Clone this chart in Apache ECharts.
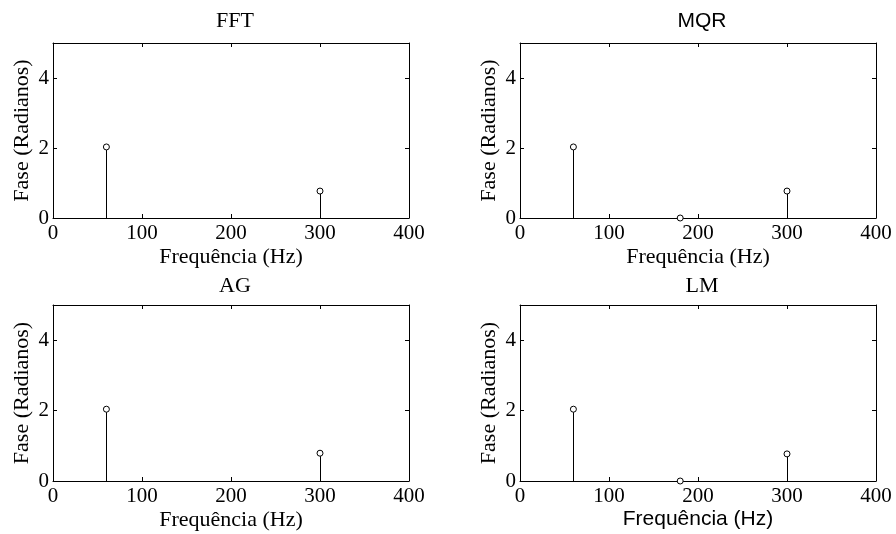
<!DOCTYPE html>
<html>
<head>
<meta charset="utf-8">
<script src="https://cdn.jsdelivr.net/npm/echarts@6/dist/echarts.min.js"></script>
<style>html,body{margin:0;padding:0;background:#fff}#c{width:896px;height:534px}</style>
</head>
<body>
<div id="c"></div>
<script>
// Data
var panelTitles = ['FFT', 'MQR', 'AG', 'LM'];
var freqFFT = [60, 300];
var phaseFFT = [2.03, 0.77];
var freqMQR = [60, 180, 300];
var phaseMQR = [2.03, 0, 0.77];
var freqAG = [60, 300];
var phaseAG = [2.04, 0.79];
var freqLM = [60, 180, 300];
var phaseLM = [2.04, 0, 0.77];
var xTicks = [0, 100, 200, 300, 400];
var yTicks = [0, 2, 4];
var xName = 'Frequência (Hz)';
var yName = 'Fase (Radianos)';

var serif = '"Liberation Serif", "Times New Roman", serif';
var sans = '"Liberation Sans", Arial, sans-serif';

var panels = [
  {title: panelTitles[0], f: freqFFT, p: phaseFFT, grid: {left: 53, top: 43, width: 356, height: 175}, titleFont: serif, xNameFont: serif, tx: 230, ty: 5},
  {title: panelTitles[1], f: freqMQR, p: phaseMQR, grid: {left: 520, top: 43, width: 356, height: 175}, titleFont: sans, xNameFont: serif, tx: 697, ty: 6},
  {title: panelTitles[2], f: freqAG, p: phaseAG, grid: {left: 53, top: 305, width: 356, height: 176}, titleFont: serif, xNameFont: serif, tx: 230, ty: 270},
  {title: panelTitles[3], f: freqLM, p: phaseLM, grid: {left: 520, top: 305, width: 356, height: 176}, titleFont: serif, xNameFont: sans, tx: 697, ty: 270}
];

var option = {
  animation: false,
  backgroundColor: '#fff',
  title: [], grid: [], xAxis: [], yAxis: [], series: []
};

var lineStyle = {color: '#000', width: 1};
panels.forEach(function (pn, i) {
  option.title.push({
    text: pn.title, left: pn.tx, top: pn.ty, textAlign: 'center',
    textStyle: {fontFamily: pn.titleFont, fontSize: pn.titleFont === sans ? 21 : 22, fontWeight: 'normal', color: '#000'}
  });
  option.grid.push(Object.assign({show: false}, pn.grid));
  var xi = option.xAxis.length;
  option.xAxis.push({
    type: 'value', gridIndex: i, min: 0, max: 400, interval: 100, position: 'bottom',
    name: xName, nameLocation: 'middle', nameGap: 28,
    nameTextStyle: {fontFamily: pn.xNameFont, fontSize: pn.xNameFont === sans ? 21 : 22, color: '#000'},
    axisLine: {show: true, onZero: false, lineStyle: lineStyle},
    axisTick: {show: true, inside: true, length: 4, lineStyle: lineStyle},
    axisLabel: {show: true, margin: 5, fontFamily: serif, fontSize: 21, color: '#000'},
    splitLine: {show: false}
  });
  option.xAxis.push({
    type: 'value', gridIndex: i, min: 0, max: 400, interval: 100, position: 'top',
    axisLine: {show: true, onZero: false, lineStyle: lineStyle},
    axisTick: {show: true, inside: true, length: 4, lineStyle: lineStyle},
    axisLabel: {show: false}, splitLine: {show: false}
  });
  var yi = option.yAxis.length;
  option.yAxis.push({
    type: 'value', gridIndex: i, min: 0, max: 5, interval: 2, position: 'left',
    name: yName, nameLocation: 'middle', nameGap: 20, nameRotate: 90,
    nameTextStyle: {fontFamily: serif, fontSize: 22, color: '#000'},
    axisLine: {show: true, onZero: false, lineStyle: lineStyle},
    axisTick: {show: true, inside: true, length: 4, lineStyle: lineStyle},
    axisLabel: {show: true, margin: 4, fontFamily: serif, fontSize: 21, color: '#000', showMaxLabel: false},
    splitLine: {show: false}
  });
  option.yAxis.push({
    type: 'value', gridIndex: i, min: 0, max: 5, interval: 2, position: 'right',
    axisLine: {show: true, onZero: false, lineStyle: lineStyle},
    axisTick: {show: true, inside: true, length: 4, lineStyle: lineStyle},
    axisLabel: {show: false}, splitLine: {show: false}
  });
  var data = pn.f.map(function (f, k) { return [f, pn.p[k]]; });
  option.series.push({
    type: 'custom', xAxisIndex: xi, yAxisIndex: yi, data: data,
    renderItem: function (params, api) {
      var p0 = api.coord([api.value(0), 0]);
      var p1 = api.coord([api.value(0), api.value(1)]);
      return {type: 'line', shape: {x1: Math.round(p0[0]) + 0.5, y1: p0[1], x2: Math.round(p1[0]) + 0.5, y2: p1[1]},
              style: {stroke: '#000', lineWidth: 1}};
    },
    z: 2
  });
  option.series.push({
    type: 'scatter', xAxisIndex: xi, yAxisIndex: yi, data: data,
    symbol: 'circle', symbolSize: 6,
    itemStyle: {color: '#fff', borderColor: '#000', borderWidth: 1, opacity: 1},
    z: 3
  });
});

var chart = echarts.init(document.getElementById('c'), null, {renderer: 'canvas'});
chart.setOption(option);
</script>
</body>
</html>
